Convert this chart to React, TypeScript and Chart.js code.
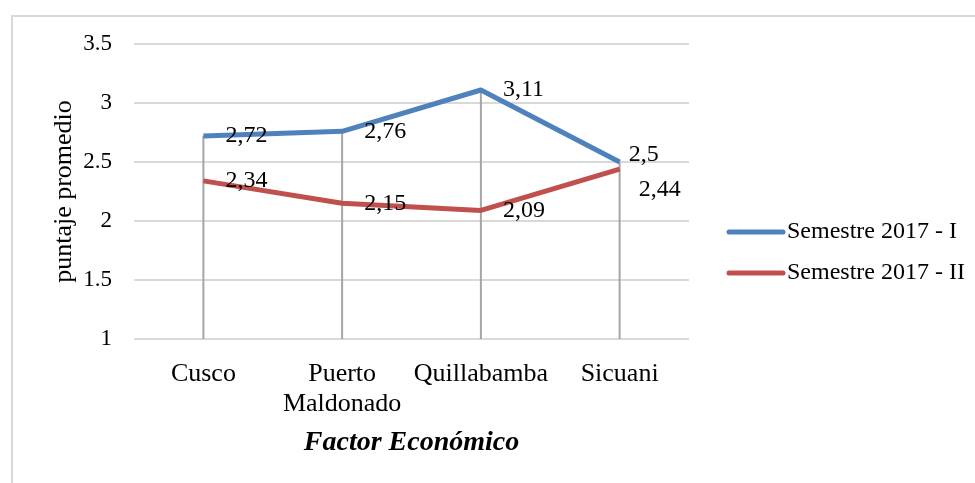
import React, { useEffect, useRef } from "react";
import { Chart, registerables } from "chart.js";

Chart.register(...registerables);

const FONT = "'Liberation Serif', 'Times New Roman', serif";

const categories: (string | string[])[] = ["Cusco", ["Puerto", "Maldonado"], "Quillabamba", "Sicuani"];
const seriesNames = ["Semestre 2017 - I", "Semestre 2017 - II"];
const semestreI = [2.72, 2.76, 3.11, 2.5];
const semestreII = [2.34, 2.15, 2.09, 2.44];
const seriesColors = ["#4F81BD", "#C0504D"];
const yMin = 1;
const yMax = 3.5;
const yStep = 0.5;
const xTitle = "Factor Económico";
const yTitle = "puntaje promedio";

// label nudges (dataset index -> point index -> [dx, dy]) relative to default right-side placement
const labelNudges: Record<number, Record<number, [number, number]>> = {
  0: { 3: [-13, -7] },
  1: { 3: [-3, 21] },
};

const fmt = (v: number) => String(v).replace(".", ",");

const framePlugin = {
  id: "frame",
  beforeDraw(chart: any) {
    const { ctx } = chart;
    ctx.save();
    ctx.fillStyle = "#ffffff";
    ctx.fillRect(0, 0, chart.width, chart.height);
    ctx.strokeStyle = "#D9D9D9";
    ctx.lineWidth = 2;
    ctx.strokeRect(12, 16, 2000, 2000);
    ctx.restore();
  },
};

const dropLinePlugin = {
  id: "dropLines",
  beforeDatasetsDraw(chart: any) {
    const { ctx, chartArea } = chart;
    const metas = chart.data.datasets.map((_: any, i: number) => chart.getDatasetMeta(i));
    const n = chart.data.labels.length;
    ctx.save();
    ctx.strokeStyle = "#A5A5A5";
    ctx.lineWidth = 2;
    for (let j = 0; j < n; j++) {
      let top = Infinity;
      let x = 0;
      metas.forEach((m: any) => {
        const el = m.data[j];
        if (el) {
          x = el.x;
          top = Math.min(top, el.y);
        }
      });
      ctx.beginPath();
      ctx.moveTo(x, top);
      ctx.lineTo(x, chartArea.bottom);
      ctx.stroke();
    }
    ctx.restore();
  },
};

const labelsPlugin = {
  id: "valueLabels",
  afterDatasetsDraw(chart: any) {
    const { ctx } = chart;
    ctx.save();
    ctx.font = `24px ${FONT}`;
    ctx.fillStyle = "#000";
    ctx.textAlign = "left";
    ctx.textBaseline = "middle";
    chart.data.datasets.forEach((ds: any, i: number) => {
      const meta = chart.getDatasetMeta(i);
      meta.data.forEach((el: any, j: number) => {
        const nudge = (labelNudges[i] && labelNudges[i][j]) || [0, 0];
        ctx.fillText(fmt(ds.data[j]), el.x + 22 + nudge[0], el.y + nudge[1]);
      });
    });
    ctx.restore();
  },
};

const legendPlugin = {
  id: "sideLegend",
  afterDraw(chart: any) {
    const { ctx, chartArea } = chart;
    ctx.save();
    ctx.font = `24px ${FONT}`;
    ctx.textAlign = "left";
    ctx.textBaseline = "middle";
    chart.data.datasets.forEach((ds: any, i: number) => {
      const y = 232 + i * 41;
      const x0 = chartArea.right + 40;
      ctx.strokeStyle = ds.borderColor;
      ctx.lineWidth = 5;
      ctx.lineCap = "round";
      ctx.beginPath();
      ctx.moveTo(x0, y);
      ctx.lineTo(x0 + 54, y);
      ctx.stroke();
      ctx.fillStyle = "#000";
      ctx.fillText(ds.label, x0 + 58, y);
    });
    ctx.restore();
  },
};

export default function App() {
  const ref = useRef<HTMLCanvasElement | null>(null);

  useEffect(() => {
    if (!ref.current) return;
    const chart = new Chart(ref.current, {
      type: "line",
      data: {
        labels: categories as any,
        datasets: [
          {
            label: seriesNames[0],
            data: semestreI,
            borderColor: seriesColors[0],
            backgroundColor: seriesColors[0],
            borderWidth: 5,
            pointRadius: 0,
            tension: 0,
            borderJoinStyle: "round",
            order: 1,
          },
          {
            label: seriesNames[1],
            data: semestreII,
            borderColor: seriesColors[1],
            backgroundColor: seriesColors[1],
            borderWidth: 5,
            pointRadius: 0,
            tension: 0,
            borderJoinStyle: "round",
            order: 0,
          },
        ],
      },
      options: {
        responsive: false,
        animation: false,
        layout: { padding: { left: 0, top: 44, right: 286, bottom: 0 } },
        plugins: {
          legend: { display: false },
          tooltip: { enabled: false },
        },
        scales: {
          x: {
            offset: true,
            grid: { display: false, drawTicks: false },
            border: { display: false },
            ticks: {
              font: { family: FONT, size: 26, lineHeight: 1.15 },
              color: "#000",
              padding: 20,
              maxRotation: 0,
              autoSkip: false,
            },
            title: {
              display: true,
              text: xTitle,
              color: "#000",
              font: { family: FONT, size: 28, weight: "bold", style: "italic" },
              padding: { top: 0, bottom: 23 },
            },
            afterFit: (s: any) => {
              s.height = 144;
            },
          },
          y: {
            min: yMin,
            max: yMax,
            ticks: {
              stepSize: yStep,
              font: { family: FONT, size: 23 },
              color: "#000",
              padding: 22,
              callback: (v: any) => String(v),
            },
            grid: { color: "#D9D9D9", lineWidth: 2, drawTicks: false },
            border: { display: false },
            title: {
              display: true,
              text: yTitle,
              color: "#000",
              font: { family: FONT, size: 26 },
              padding: { top: 49, bottom: 0 },
            },
            afterFit: (s: any) => {
              s.width = 134;
            },
          },
        },
      },
      plugins: [framePlugin, dropLinePlugin, labelsPlugin, legendPlugin],
    });
    return () => chart.destroy();
  }, []);

  return (
    <div
      style={{
        position: "fixed",
        left: 0,
        top: 0,
        width: 975,
        height: 483,
        overflow: "hidden",
        background: "#fff",
      }}
    >
      <canvas ref={ref} width={975} height={483} style={{ display: "block" }} />
    </div>
  );
}
